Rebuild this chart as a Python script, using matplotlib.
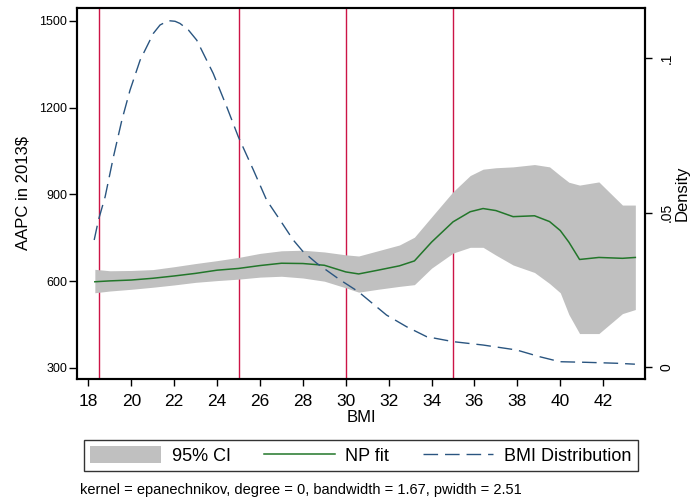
"""AAPC vs BMI: local-polynomial fit with 95% CI, plus BMI density on a second axis."""
import matplotlib
matplotlib.use('Agg')
import matplotlib.pyplot as plt
from matplotlib.patches import Patch
from matplotlib.lines import Line2D

plt.rcParams['font.family'] = ['Liberation Sans', 'DejaVu Sans']

# NP fit and confidence band
bmi_grid = [18.3, 19, 20, 21, 22, 23, 24, 25, 26, 27, 28, 29, 30, 30.6, 31.5, 32.5,
            33.2, 34, 35, 35.8, 36.4, 37, 37.8, 38.8, 39.5, 40, 40.4, 40.9, 41.8, 42.9, 43.5]
np_fit = [598, 601, 604, 610, 618, 627, 638, 644, 654, 662, 661, 655, 632, 625, 638, 653,
          670, 735, 805, 840, 851, 844, 823, 826, 806, 775, 735, 675, 682, 679, 682]
ci_upper = [641, 636, 637, 640, 650, 661, 671, 682, 696, 705, 707, 701, 691, 687, 705, 725,
            752, 822, 909, 965, 987, 992, 995, 1003, 995, 965, 942, 932, 943, 863, 863]
ci_lower = [560, 566, 572, 579, 587, 596, 602, 607, 614, 617, 611, 600, 577, 562, 572, 582,
            588, 645, 697, 717, 717, 690, 656, 630, 592, 560, 485, 419, 419, 488, 502]

# BMI kernel density
bmi_dens = [18.27, 18.47, 18.78, 19.17, 19.56, 19.94, 20.41, 21.03, 21.34, 21.73, 22.04,
            22.27, 22.66, 23.05, 23.82, 24.45, 24.99, 25.69, 26.31, 26.93, 27.55, 28.0,
            28.64, 29.73, 30.58, 31.9, 32.84, 33.77, 35.0, 36.4, 37.96, 39.05, 39.98,
            41.22, 42.62, 43.48]
density = [0.0412, 0.0477, 0.0552, 0.0682, 0.0800, 0.0897, 0.0994, 0.1081, 0.1108, 0.1122,
           0.1120, 0.1113, 0.1092, 0.1059, 0.0951, 0.0843, 0.0746, 0.0639, 0.0541, 0.0477,
           0.0412, 0.0375, 0.0337, 0.0283, 0.0245, 0.0169, 0.0131, 0.0099, 0.0083, 0.0072,
           0.0056, 0.0034, 0.0018, 0.0016, 0.0013, 0.0010]

cutoffs = [18.5, 25, 30, 35]
x_ticks = list(range(18, 43, 2))
y_ticks = [300, 600, 900, 1200, 1500]
dens_ticks = [0, 0.05, 0.1]
dens_labels = ['0', '.05', '.1']

CI_GRAY = '#c0c0c0'
FIT_GREEN = '#22762a'
NAVY = '#2a5580'
CRANBERRY = '#cc1446'
DASHES = (10.5, 5)

fig = plt.figure(figsize=(6.94, 5.0), dpi=100)
ax = fig.add_axes([0.111, 0.2426, 0.819, 0.7414])

for c in cutoffs:
    ax.axvline(c, color=CRANBERRY, lw=1.0, zorder=1)
ax.fill_between(bmi_grid, ci_lower, ci_upper, color=CI_GRAY, lw=0, zorder=2)
ax.plot(bmi_grid, np_fit, color=FIT_GREEN, lw=1.1, zorder=3)

ax.set_xlim(17.47, 43.97)
ax.set_ylim(263, 1544)
ax.set_xticks(x_ticks)
ax.set_yticks(y_ticks)
ax.tick_params(axis='x', labelsize=12.5, length=5, width=1, pad=6)
ax.tick_params(axis='y', labelsize=9, length=6, width=1, pad=1)
ax.set_xlabel('BMI', fontsize=12, labelpad=1)
ax.set_ylabel('AAPC in 2013$', fontsize=12, labelpad=6)
for s in ax.spines.values():
    s.set_linewidth(1.5)

ax2 = ax.twinx()
dens_line, = ax2.plot(bmi_dens, density, color=NAVY, lw=1.0)
dens_line.set_dashes(DASHES)
ax2.set_ylim(-0.0037, 0.1163)
ax2.set_yticks(dens_ticks)
ax2.set_yticklabels(dens_labels, rotation=90, va='center')
ax2.tick_params(axis='y', labelsize=10, length=5, width=1, pad=5)
ax2.set_ylabel('Density', fontsize=12, labelpad=1)
for s in ax2.spines.values():
    s.set_linewidth(1.5)

dash_handle = Line2D([], [], color=NAVY, lw=1.0)
dash_handle.set_dashes(DASHES)
handles = [Patch(facecolor=CI_GRAY, edgecolor='none'),
           Line2D([], [], color=FIT_GREEN, lw=1.1),
           dash_handle]
leg = fig.legend(handles, ['95% CI', 'NP fit', 'BMI Distribution'], ncol=3,
                 loc='center', bbox_to_anchor=(0.52, 0.089), fontsize=13,
                 handlelength=3.9, handleheight=1.0, handletextpad=0.6,
                 columnspacing=1.85, fancybox=False, borderpad=0.35)
leg.get_frame().set_edgecolor('black')
leg.get_frame().set_linewidth(1.0)

fig.text(80 / 694, 1 - 490 / 500,
         'kernel = epanechnikov, degree = 0, bandwidth = 1.67, pwidth = 2.51',
         fontsize=10.5, va='center', ha='left')

fig.savefig('out.png', dpi=100)
